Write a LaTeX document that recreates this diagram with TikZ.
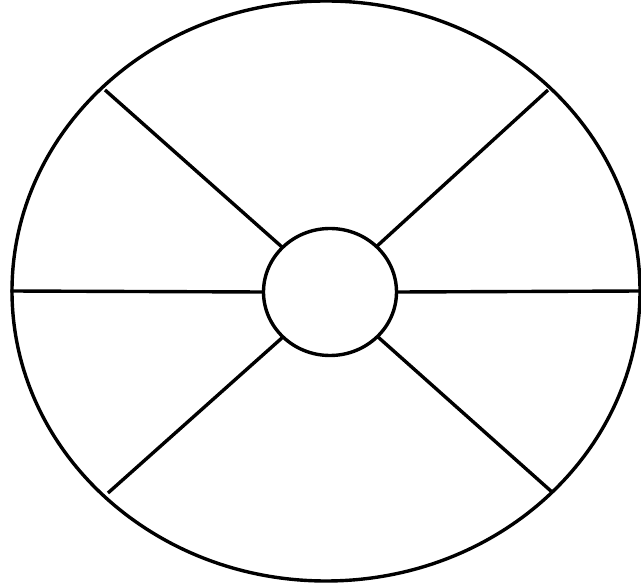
\documentclass[tikz,border=0pt]{standalone}
\usetikzlibrary{shapes.geometric}
\begin{document}
\begin{tikzpicture}[x=1pt,y=-1pt,
  ink/.style={line width=3.4pt,draw=black},
  rim/.style={ink,ellipse,inner sep=0pt,minimum width=628pt,minimum height=580pt},
  hub/.style={ink,ellipse,inner sep=0pt,minimum width=133pt,minimum height=127pt},
  spoke/.style={ink}]
\useasboundingbox (0,0) rectangle (641,585);
\fill[white] (0,0) rectangle (641,585);
\node[rim] (rim) at (326,291) {};
\node[hub] (hub) at (330,292) {};
\coordinate (ul) at (105,90);
\coordinate (ur) at (548,90);
\coordinate (ll) at (108,493);
\coordinate (lr) at (552,492);
\draw[spoke] (hub.west) -- (rim.west);
\draw[spoke] (hub.east) -- (rim.east);
\draw[spoke] (hub) ++(-48,-45) -- (ul);
\draw[spoke] (hub) ++(46,-45) -- (ur);
\draw[spoke] (hub) ++(-47,45) -- (ll);
\draw[spoke] (hub) ++(48,45) -- (lr);
\end{tikzpicture}
\end{document}
